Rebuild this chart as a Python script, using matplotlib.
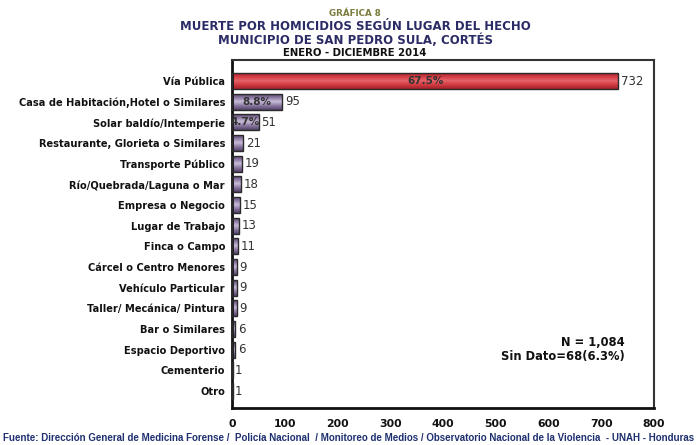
import matplotlib
matplotlib.use("Agg")
import matplotlib.pyplot as plt
import numpy as np
from matplotlib.colors import LinearSegmentedColormap

categories = ["Vía Pública", "Casa de Habitación,Hotel o Similares", "Solar baldío/Intemperie",
              "Restaurante, Glorieta o Similares", "Transporte Público", "Río/Quebrada/Laguna o Mar",
              "Empresa o Negocio", "Lugar de Trabajo", "Finca o Campo", "Cárcel o Centro Menores",
              "Vehículo Particular", "Taller/ Mecánica/ Pintura", "Bar o Similares",
              "Espacio Deportivo", "Cementerio", "Otro"]
values = [732, 95, 51, 21, 19, 18, 15, 13, 11, 9, 9, 9, 6, 6, 1, 1]
pct_labels = ["67.5%", "8.8%", "4.7%"]
xticks = [0, 100, 200, 300, 400, 500, 600, 700, 800]

fig = plt.figure(figsize=(6.99, 4.45), dpi=100)
ax = fig.add_axes([232/699, 1-408/445, (654-232)/699, (408-60)/445])

y = np.arange(len(categories))
bars = ax.barh(y, values, height=0.78, color="none", edgecolor="#2a2a2a", linewidth=1.0, zorder=3)

red_cmap = LinearSegmentedColormap.from_list("r", ["#9a1e24", "#d23a41", "#e56468", "#d23a41", "#a2232a"])
pur_cmap = LinearSegmentedColormap.from_list("p", ["#4a3a5e", "#8a76a0", "#c9bdd8", "#8a76a0", "#524268"])
grad = np.linspace(0, 1, 64).reshape(-1, 1)
for i, b in enumerate(bars):
    x0, yb = b.get_x(), b.get_y()
    w, h = b.get_width(), b.get_height()
    cmap = red_cmap if i == 0 else pur_cmap
    im = ax.imshow(grad, extent=(x0, x0 + w, yb + h, yb), aspect="auto", cmap=cmap, zorder=2,
                   interpolation="bilinear")
    im.set_clip_path(b)

ax.set_xlim(0, 800)
ax.set_ylim(15.82, -1.02)
ax.set_yticks(y)
ax.set_yticklabels(categories, fontsize=7.1, fontweight="bold", color="#111111")
ax.set_xticks(xticks)
ax.set_xticklabels([str(t) for t in xticks], fontsize=7.8, fontweight="bold", color="#111111")
ax.tick_params(axis="both", length=0, pad=5)
ax.tick_params(axis="x", pad=8)

for s in ["left", "bottom"]:
    ax.spines[s].set_linewidth(2.0)
    ax.spines[s].set_color("#111111")
for s in ["top", "right"]:
    ax.spines[s].set_linewidth(1.5)
    ax.spines[s].set_color("#333333")

for i, v in enumerate(values):
    ax.text(v + 5, i, str(v), va="center", ha="left", fontsize=8.5, color="#333333", zorder=5)

for i, p in enumerate(pct_labels):
    ax.text(values[i] / 2, i, p, va="center", ha="center", fontsize=7.5, fontweight="bold",
            color="#333333", zorder=5)

ax.text(0.93, 0.187, "N = 1,084", transform=ax.transAxes, ha="right", va="center",
        fontsize=8.3, fontweight="bold", color="#111111")
ax.text(0.93, 0.147, "Sin Dato=68(6.3%)", transform=ax.transAxes, ha="right", va="center",
        fontsize=8.3, fontweight="bold", color="#111111")

fig.text(355/699, 1-14/445, "GRÁFICA 8", ha="center", va="center", fontsize=6.3,
         fontweight="bold", color="#7b7b3e")
fig.text(355/699, 1-27/445, "MUERTE POR HOMICIDIOS SEGÚN LUGAR DEL HECHO", ha="center", va="center",
         fontsize=8.5, fontweight="bold", color="#2b2b66")
fig.text(355/699, 1-40/445, "MUNICIPIO DE SAN PEDRO SULA, CORTÉS", ha="center", va="center",
         fontsize=8.5, fontweight="bold", color="#2b2b66")
fig.text(355/699, 1-53/445, "ENERO - DICIEMBRE 2014", ha="center", va="center",
         fontsize=7.3, fontweight="bold", color="#111111")

fig.text(3/699, 1-438/445, "Fuente: Dirección General de Medicina Forense /  Policía Nacional  / Monitoreo de Medios / Observatorio Nacional de la Violencia  - UNAH - Honduras",
         ha="left", va="center", fontsize=7.0, fontweight="bold", color="#1f3070",
         family="Liberation Sans")

fig.savefig("out.png", dpi=100)
